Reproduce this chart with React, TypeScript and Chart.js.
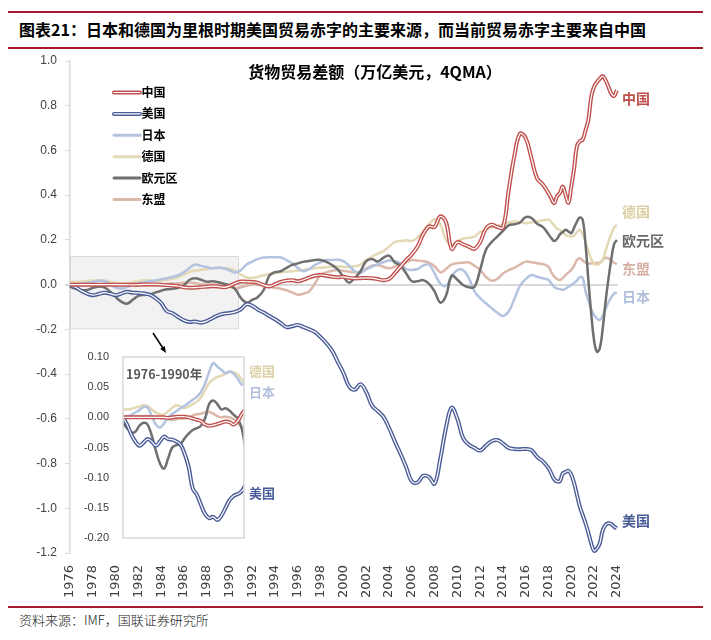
import React, { useEffect, useRef } from 'react';
import { Chart, registerables } from 'chart.js';

Chart.register(...registerables);

// time axis (half-yearly to 2017, quarterly afterwards)
const periods = [
  1976.0, 1976.5, 1977.0, 1977.5, 1978.0, 1978.5, 1979.0, 1979.5, 1980.0, 1980.5,
  1981.0, 1981.5, 1982.0, 1982.5, 1983.0, 1983.5, 1984.0, 1984.5, 1985.0, 1985.5,
  1986.0, 1986.5, 1987.0, 1987.5, 1988.0, 1988.5, 1989.0, 1989.5, 1990.0, 1990.5,
  1991.0, 1991.5, 1992.0, 1992.5, 1993.0, 1993.5, 1994.0, 1994.5, 1995.0, 1995.5,
  1996.0, 1996.5, 1997.0, 1997.5, 1998.0, 1998.5, 1999.0, 1999.5, 2000.0, 2000.5,
  2001.0, 2001.5, 2002.0, 2002.5, 2003.0, 2003.5, 2004.0, 2004.5, 2005.0, 2005.5,
  2006.0, 2006.5, 2007.0, 2007.5, 2008.0, 2008.5, 2009.0, 2009.5, 2010.0, 2010.5,
  2011.0, 2011.5, 2012.0, 2012.5, 2013.0, 2013.5, 2014.0, 2014.5, 2015.0, 2015.5,
  2016.0, 2016.5, 2017.0, 2017.5,
  2018.0, 2018.25, 2018.5, 2018.75,
  2019.0, 2019.25, 2019.5, 2019.75,
  2020.0, 2020.25, 2020.5, 2020.75,
  2021.0, 2021.25, 2021.5, 2021.75,
  2022.0, 2022.25, 2022.5, 2022.75,
  2023.0, 2023.25, 2023.5, 2023.75,
  2024.0,
];

const china = [
  0.000, 0.000, 0.000, 0.000, 0.000, 0.000, 0.000, 0.000, 0.000, 0.000,
  0.000, -0.001, 0.000, 0.001, 0.001, 0.001, 0.000, -0.002, -0.004, -0.006,
  -0.012, -0.014, -0.013, -0.011, -0.009, -0.007, -0.008, -0.012, -0.006, 0.006,
  0.014, 0.013, 0.012, 0.008, -0.002, -0.008, 0.002, 0.012, 0.018, 0.020,
  0.015, 0.022, 0.032, 0.040, 0.043, 0.040, 0.035, 0.033, 0.035, 0.030,
  0.028, 0.029, 0.030, 0.029, 0.025, 0.020, 0.025, 0.050, 0.080, 0.110,
  0.135, 0.170, 0.225, 0.260, 0.258, 0.305, 0.280, 0.160, 0.190, 0.180,
  0.170, 0.160, 0.190, 0.250, 0.268, 0.258, 0.255, 0.420, 0.575, 0.675,
  0.655, 0.565, 0.475, 0.448,
  0.409, 0.385, 0.364, 0.395,
  0.410, 0.438, 0.400, 0.367,
  0.440, 0.520, 0.620, 0.642,
  0.648, 0.690, 0.737, 0.840,
  0.885, 0.905, 0.920, 0.933,
  0.915, 0.886, 0.855, 0.843,
  0.870,
];

const usa = [
  0.000, -0.012, -0.028, -0.040, -0.047, -0.042, -0.036, -0.040, -0.047, -0.040,
  -0.032, -0.036, -0.037, -0.040, -0.045, -0.060, -0.082, -0.118, -0.128, -0.145,
  -0.160, -0.167, -0.165, -0.170, -0.163, -0.150, -0.137, -0.130, -0.127, -0.122,
  -0.110, -0.088, -0.095, -0.112, -0.125, -0.140, -0.155, -0.172, -0.190, -0.186,
  -0.180, -0.190, -0.200, -0.212, -0.235, -0.262, -0.295, -0.345, -0.395, -0.455,
  -0.470, -0.445, -0.480, -0.540, -0.565, -0.590, -0.640, -0.700, -0.755, -0.815,
  -0.880, -0.885, -0.855, -0.860, -0.890, -0.780, -0.640, -0.550, -0.600, -0.685,
  -0.715, -0.730, -0.742, -0.720, -0.700, -0.695, -0.710, -0.730, -0.735, -0.736,
  -0.735, -0.740, -0.770, -0.790,
  -0.820, -0.845, -0.870, -0.880,
  -0.878, -0.845, -0.838, -0.832,
  -0.850, -0.888, -0.940, -0.993,
  -1.030, -1.067, -1.110, -1.157,
  -1.190, -1.180, -1.157, -1.100,
  -1.075, -1.067, -1.070, -1.082,
  -1.090,
];

const japan = [
  0.000, 0.002, 0.004, 0.008, 0.012, 0.017, 0.016, 0.002, -0.012, -0.017,
  -0.010, 0.000, 0.006, 0.010, 0.015, 0.019, 0.024, 0.029, 0.034, 0.042,
  0.056, 0.075, 0.090, 0.084, 0.079, 0.073, 0.076, 0.072, 0.064, 0.054,
  0.065, 0.090, 0.103, 0.115, 0.121, 0.123, 0.122, 0.121, 0.110, 0.096,
  0.075, 0.060, 0.070, 0.088, 0.100, 0.110, 0.110, 0.111, 0.105, 0.085,
  0.060, 0.052, 0.068, 0.080, 0.090, 0.100, 0.108, 0.105, 0.095, 0.070,
  0.066, 0.070, 0.085, 0.090, 0.050, 0.005, -0.005, 0.036, 0.065, 0.065,
  0.030, -0.030, -0.060, -0.083, -0.105, -0.125, -0.140, -0.120, -0.065, -0.005,
  0.025, 0.043, 0.035, 0.028,
  0.021, 0.005, -0.010, -0.018,
  -0.020, -0.023, -0.018, -0.010,
  -0.002, 0.008, 0.018, 0.034,
  0.030, -0.030, -0.070, -0.110,
  -0.135, -0.152, -0.158, -0.140,
  -0.110, -0.080, -0.058, -0.040,
  -0.035,
];

const germany = [
  0.013, 0.013, 0.014, 0.016, 0.018, 0.020, 0.019, 0.013, 0.008, 0.005,
  0.005, 0.010, 0.016, 0.020, 0.018, 0.015, 0.018, 0.022, 0.026, 0.033,
  0.045, 0.057, 0.063, 0.067, 0.069, 0.072, 0.076, 0.075, 0.071, 0.062,
  0.045, 0.032, 0.030, 0.035, 0.042, 0.048, 0.052, 0.055, 0.058, 0.060,
  0.063, 0.066, 0.070, 0.073, 0.075, 0.078, 0.080, 0.081, 0.080, 0.078,
  0.082, 0.090, 0.110, 0.125, 0.138, 0.150, 0.170, 0.190, 0.195, 0.198,
  0.195, 0.210, 0.240, 0.270, 0.292, 0.270, 0.200, 0.175, 0.195, 0.205,
  0.210, 0.215, 0.235, 0.247, 0.255, 0.262, 0.270, 0.278, 0.282, 0.280,
  0.275, 0.278, 0.282, 0.288,
  0.290, 0.280, 0.265, 0.250,
  0.245, 0.235, 0.222, 0.218,
  0.215, 0.220, 0.235, 0.245,
  0.225, 0.190, 0.150, 0.115,
  0.095, 0.088, 0.095, 0.110,
  0.150, 0.190, 0.225, 0.255,
  0.267,
];

const eurozone = [
  -0.010, -0.018, -0.025, -0.024, -0.014, -0.009, -0.012, -0.030, -0.055, -0.076,
  -0.085, -0.068, -0.050, -0.046, -0.044, -0.035, -0.027, -0.021, -0.018, -0.014,
  -0.002, 0.022, 0.028, 0.022, 0.013, 0.015, 0.011, 0.004, -0.002, -0.020,
  -0.060, -0.080, -0.068, -0.055, -0.024, 0.040, 0.056, 0.060, 0.075, 0.088,
  0.095, 0.103, 0.106, 0.110, 0.110, 0.102, 0.088, 0.068, 0.035, 0.009,
  0.030, 0.060, 0.105, 0.115, 0.103, 0.120, 0.130, 0.100, 0.085, 0.051,
  0.015, 0.015, 0.020, 0.005, -0.030, -0.080, -0.050, 0.040, 0.022, -0.002,
  -0.012, -0.010, 0.066, 0.155, 0.190, 0.215, 0.240, 0.265, 0.270, 0.278,
  0.302, 0.298, 0.272, 0.258,
  0.225, 0.208, 0.195, 0.205,
  0.225, 0.235, 0.245, 0.238,
  0.230, 0.255, 0.282, 0.300,
  0.290, 0.180, 0.020, -0.130,
  -0.250, -0.300, -0.285, -0.200,
  -0.080, 0.021, 0.110, 0.180,
  0.200,
];

const asean = [
  0.000, 0.001, 0.002, 0.002, 0.002, 0.002, 0.002, 0.001, 0.000, -0.001,
  -0.002, -0.003, -0.004, -0.003, -0.002, -0.002, 0.000, 0.003, 0.005, 0.006,
  0.008, 0.009, 0.006, 0.002, 0.000, 0.001, 0.000, -0.003, -0.008, -0.016,
  -0.012, -0.005, 0.000, 0.000, -0.005, -0.010, -0.014, -0.018, -0.025, -0.035,
  -0.045, -0.040, -0.030, 0.005, 0.045, 0.055, 0.062, 0.066, 0.062, 0.058,
  0.055, 0.058, 0.072, 0.085, 0.088, 0.080, 0.073, 0.080, 0.090, 0.100,
  0.110, 0.108, 0.105, 0.098, 0.082, 0.055, 0.070, 0.090, 0.096, 0.098,
  0.099, 0.085, 0.066, 0.035, 0.018, 0.025, 0.050, 0.065, 0.075, 0.090,
  0.103, 0.100, 0.096, 0.092,
  0.080, 0.055, 0.036, 0.025,
  0.021, 0.030, 0.043, 0.055,
  0.066, 0.085, 0.110, 0.118,
  0.108, 0.099, 0.096, 0.095,
  0.096, 0.097, 0.098, 0.110,
  0.120, 0.118, 0.108, 0.098,
  0.092,
];

const yearTicks = [
  1976, 1978, 1980, 1982, 1984, 1986, 1988, 1990, 1992, 1994, 1996, 1998, 2000,
  2002, 2004, 2006, 2008, 2010, 2012, 2014, 2016, 2018, 2020, 2022, 2024,
];

const seriesNames = ['中国', '美国', '日本', '德国', '欧元区', '东盟'];
const seriesColors = ['#c0504d', '#4a5c98', '#b4c3e0', '#e3d9b5', '#6f6f6f', '#dbb8aa'];
const labelColors = ['#c0504d', '#4a5c98', '#b0bfdc', '#dcd0a6', '#6a6a6a', '#d6b0a3'];
// right-hand end labels (value positions on main y axis)
const endLabelValues = [0.83, -1.057, -0.055, 0.325, 0.195, 0.07];
// inset end labels (value positions on inset y axis)
const insetLabelNames = ['德国', '日本', '美国'];
const insetLabelSeries = [3, 2, 1];
const insetLabelValues = [0.076, 0.042, -0.125];

const highlight = { from: 1976, to: 1990.75, top: 0.128, bottom: -0.195 };
const insetEnd = 1990.75;

const CJK = '"Noto Sans CJK SC", "Noto Sans", sans-serif';
const NUM = '"Liberation Sans", Arial, sans-serif';

function pts(values: number[], maxT = Infinity) {
  const out: { x: number; y: number }[] = [];
  periods.forEach((t, i) => {
    if (t <= maxT) out.push({ x: t, y: values[i] });
  });
  return out;
}

function buildDatasets(maxT: number, clip: any) {
  const base = { pointRadius: 0, tension: 0.4, fill: false, clip } as any;
  const ds: any[] = [];
  // first dataset is drawn on top
  ds.push({ ...base, data: pts(china, maxT), borderColor: '#ffffff', borderWidth: 1.2 });
  ds.push({ ...base, data: pts(china, maxT), borderColor: seriesColors[0], borderWidth: 4 });
  ds.push({ ...base, data: pts(usa, maxT), borderColor: '#ffffff', borderWidth: 1.2 });
  ds.push({ ...base, data: pts(usa, maxT), borderColor: seriesColors[1], borderWidth: 4 });
  ds.push({ ...base, data: pts(eurozone, maxT), borderColor: seriesColors[4], borderWidth: 2.5 });
  ds.push({ ...base, data: pts(japan, maxT), borderColor: seriesColors[2], borderWidth: 2.5 });
  ds.push({ ...base, data: pts(germany, maxT), borderColor: seriesColors[3], borderWidth: 2.5 });
  ds.push({ ...base, data: pts(asean, maxT), borderColor: seriesColors[5], borderWidth: 2.5 });
  return ds;
}

const mainDecor = {
  id: 'mainDecor',
  beforeDatasetsDraw(chart: any) {
    const { ctx, scales } = chart;
    const x0 = scales.x.getPixelForValue(highlight.from);
    const x1 = scales.x.getPixelForValue(highlight.to);
    const y0 = scales.y.getPixelForValue(highlight.top);
    const y1 = scales.y.getPixelForValue(highlight.bottom);
    ctx.save();
    ctx.fillStyle = '#f2f2f2';
    ctx.fillRect(x0, y0, x1 - x0, y1 - y0);
    ctx.strokeStyle = '#d9d9d9';
    ctx.lineWidth = 1;
    ctx.strokeRect(x0 + 0.5, y0 + 0.5, x1 - x0, y1 - y0);
    ctx.restore();
  },
  afterDatasetsDraw(chart: any) {
    const { ctx, scales, chartArea } = chart;
    ctx.save();
    // title inside plot
    ctx.fillStyle = '#000';
    ctx.font = `bold 16px ${CJK}`;
    ctx.textAlign = 'center';
    ctx.textBaseline = 'middle';
    ctx.fillText('货物贸易差额（万亿美元，4QMA）', 375, 22);

    // legend
    const lx0 = 114, lx1 = 140;
    seriesNames.forEach((name, i) => {
      const yy = 42.5 + i * 21.4;
      ctx.lineCap = 'round';
      ctx.strokeStyle = seriesColors[i];
      ctx.lineWidth = i < 2 ? 4 : 3;
      ctx.beginPath(); ctx.moveTo(lx0, yy); ctx.lineTo(lx1, yy); ctx.stroke();
      if (i < 2) {
        ctx.strokeStyle = '#fff';
        ctx.lineWidth = 1.2;
        ctx.beginPath(); ctx.moveTo(lx0, yy); ctx.lineTo(lx1, yy); ctx.stroke();
      }
      ctx.fillStyle = '#000';
      ctx.font = `bold 12px ${CJK}`;
      ctx.textAlign = 'left';
      ctx.fillText(name, 141.5, yy);
    });

    // right end labels
    ctx.font = `bold 14px ${CJK}`;
    ctx.textAlign = 'left';
    seriesNames.forEach((name, i) => {
      ctx.fillStyle = labelColors[i];
      ctx.fillText(name, chartArea.right + 4, scales.y.getPixelForValue(endLabelValues[i]));
    });

    // arrow
    const ax0 = 153, ay0 = 283, ax1 = 166, ay1 = 303;
    ctx.strokeStyle = '#000';
    ctx.fillStyle = '#000';
    ctx.lineWidth = 1.5;
    ctx.lineCap = 'butt';
    ctx.beginPath(); ctx.moveTo(ax0, ay0); ctx.lineTo(ax1 - 2.5, ay1 - 4); ctx.stroke();
    const ang = Math.atan2(ay1 - ay0, ax1 - ax0);
    ctx.beginPath();
    ctx.moveTo(ax1, ay1);
    ctx.lineTo(ax1 - 7 * Math.cos(ang - 0.4), ay1 - 7 * Math.sin(ang - 0.4));
    ctx.lineTo(ax1 - 7 * Math.cos(ang + 0.4), ay1 - 7 * Math.sin(ang + 0.4));
    ctx.closePath();
    ctx.fill();
    ctx.restore();
  },
};

const insetDecor = {
  id: 'insetDecor',
  beforeDraw(chart: any) {
    const { ctx, chartArea: a } = chart;
    ctx.save();
    ctx.fillStyle = '#fff';
    ctx.fillRect(a.left, a.top, a.right - a.left, a.bottom - a.top);
    ctx.restore();
  },
  afterDraw(chart: any) {
    const { ctx, chartArea: a, scales } = chart;
    ctx.save();
    ctx.strokeStyle = '#d9d9d9';
    ctx.lineWidth = 1.5;
    ctx.strokeRect(a.left, a.top, a.right - a.left, a.bottom - a.top);
    ctx.fillStyle = '#595959';
    ctx.font = `bold 12.5px ${CJK}`;
    ctx.textAlign = 'left';
    ctx.textBaseline = 'middle';
    ctx.fillText('1976-1990年', a.left + 3, a.top + 17);
    ctx.font = `bold 13px ${CJK}`;
    insetLabelNames.forEach((name, i) => {
      ctx.fillStyle = labelColors[insetLabelSeries[i]];
      ctx.fillText(name, a.right + 5, scales.y.getPixelForValue(insetLabelValues[i]));
    });
    ctx.restore();
  },
};

function fmt(v: number, d: number) {
  const n = Math.abs(v) < 1e-9 ? 0 : v;
  return n.toFixed(d);
}

export default function App() {
  const mainRef = useRef<HTMLCanvasElement>(null);
  const insetRef = useRef<HTMLCanvasElement>(null);

  useEffect(() => {
    const main = new Chart(mainRef.current as HTMLCanvasElement, {
      type: 'line',
      data: { datasets: buildDatasets(Infinity, 3) },
      options: {
        animation: false,
        responsive: false,
        devicePixelRatio: 1,
        layout: { padding: { top: 11, right: 93, bottom: 0, left: 0 } },
        plugins: { legend: { display: false }, tooltip: { enabled: false } },
        scales: {
          x: {
            type: 'linear',
            min: 1976,
            max: 2024.1,
            afterBuildTicks: (s: any) => {
              s.ticks = yearTicks.map((v) => ({ value: v }));
            },
            afterFit: (s: any) => {
              s.height = 52;
              s.paddingLeft = 0;
              s.paddingRight = 0;
            },
            ticks: {
              autoSkip: false,
              minRotation: 90,
              maxRotation: 90,
              padding: 4,
              color: '#404040',
              font: { family: '"DejaVu Sans", sans-serif', size: 13 },
              callback: (v: any) => String(v),
            },
            grid: { display: false },
            border: { display: false },
          },
          y: {
            min: -1.2,
            max: 1.0,
            afterFit: (s: any) => {
              s.width = 70;
              s.paddingTop = 0;
              s.paddingBottom = 0;
            },
            ticks: {
              stepSize: 0.2,
              padding: 8,
              color: '#404040',
              font: { family: NUM, size: 12 },
              callback: (v: any) => fmt(Number(v), 1),
            },
            grid: {
              drawOnChartArea: true,
              drawTicks: true,
              tickLength: 5,
              tickColor: '#d9d9d9',
              color: (c: any) => (c.tick && Math.abs(c.tick.value) < 1e-9 ? '#d9d9d9' : 'rgba(0,0,0,0)'),
              lineWidth: (c: any) => (c.tick && Math.abs(c.tick.value) < 1e-9 ? 2 : 1),
            },
            border: { display: true, color: '#d9d9d9', width: 1.5 },
          },
        },
      },
      plugins: [mainDecor],
    } as any);

    const inset = new Chart(insetRef.current as HTMLCanvasElement, {
      type: 'line',
      data: { datasets: buildDatasets(insetEnd + 0.3, 0) },
      options: {
        animation: false,
        responsive: false,
        devicePixelRatio: 1,
        layout: { padding: { top: 12, right: 36, bottom: 7, left: 0 } },
        plugins: { legend: { display: false }, tooltip: { enabled: false } },
        scales: {
          x: { type: 'linear', min: 1976, max: insetEnd, display: false },
          y: {
            min: -0.2,
            max: 0.1,
            afterFit: (s: any) => {
              s.width = 63;
              s.paddingTop = 0;
              s.paddingBottom = 0;
            },
            ticks: {
              stepSize: 0.05,
              padding: 6,
              color: '#404040',
              font: { family: NUM, size: 11 },
              callback: (v: any) => fmt(Number(v), 2),
            },
            grid: { display: false },
            border: { display: false },
          },
        },
      },
      plugins: [insetDecor],
    } as any);

    return () => {
      main.destroy();
      inset.destroy();
    };
  }, []);

  return (
    <div
      style={{
        position: 'absolute',
        left: 0,
        top: 0,
        width: 711,
        height: 640,
        background: '#fff',
        overflow: 'hidden',
      }}
    >
      <div style={{ position: 'absolute', left: 8, top: 11, width: 695, height: 2, background: '#a6192e' }} />
      <div
        style={{
          position: 'absolute',
          left: 19,
          top: 18,
          fontFamily: CJK,
          fontWeight: 700,
          fontSize: 16,
          lineHeight: '22px',
          color: '#000',
          whiteSpace: 'nowrap',
        }}
      >
        图表21：日本和德国为里根时期美国贸易赤字的主要来源，而当前贸易赤字主要来自中国
      </div>
      <div style={{ position: 'absolute', left: 8, top: 47, width: 695, height: 1.5, background: '#a6192e' }} />
      <canvas
        ref={mainRef}
        width={711}
        height={555}
        style={{ position: 'absolute', left: 0, top: 50, width: 711, height: 555 }}
      />
      <canvas
        ref={insetRef}
        width={220}
        height={200}
        style={{ position: 'absolute', left: 60, top: 345, width: 220, height: 200 }}
      />
      <div style={{ position: 'absolute', left: 8, top: 606, width: 695, height: 1.5, background: '#a6192e' }} />
      <div
        style={{
          position: 'absolute',
          left: 19,
          top: 611,
          fontFamily: CJK,
          fontWeight: 300,
          fontSize: 13,
          lineHeight: '18px',
          color: '#222',
          whiteSpace: 'nowrap',
        }}
      >
        资料来源：IMF，国联证券研究所
      </div>
    </div>
  );
}
